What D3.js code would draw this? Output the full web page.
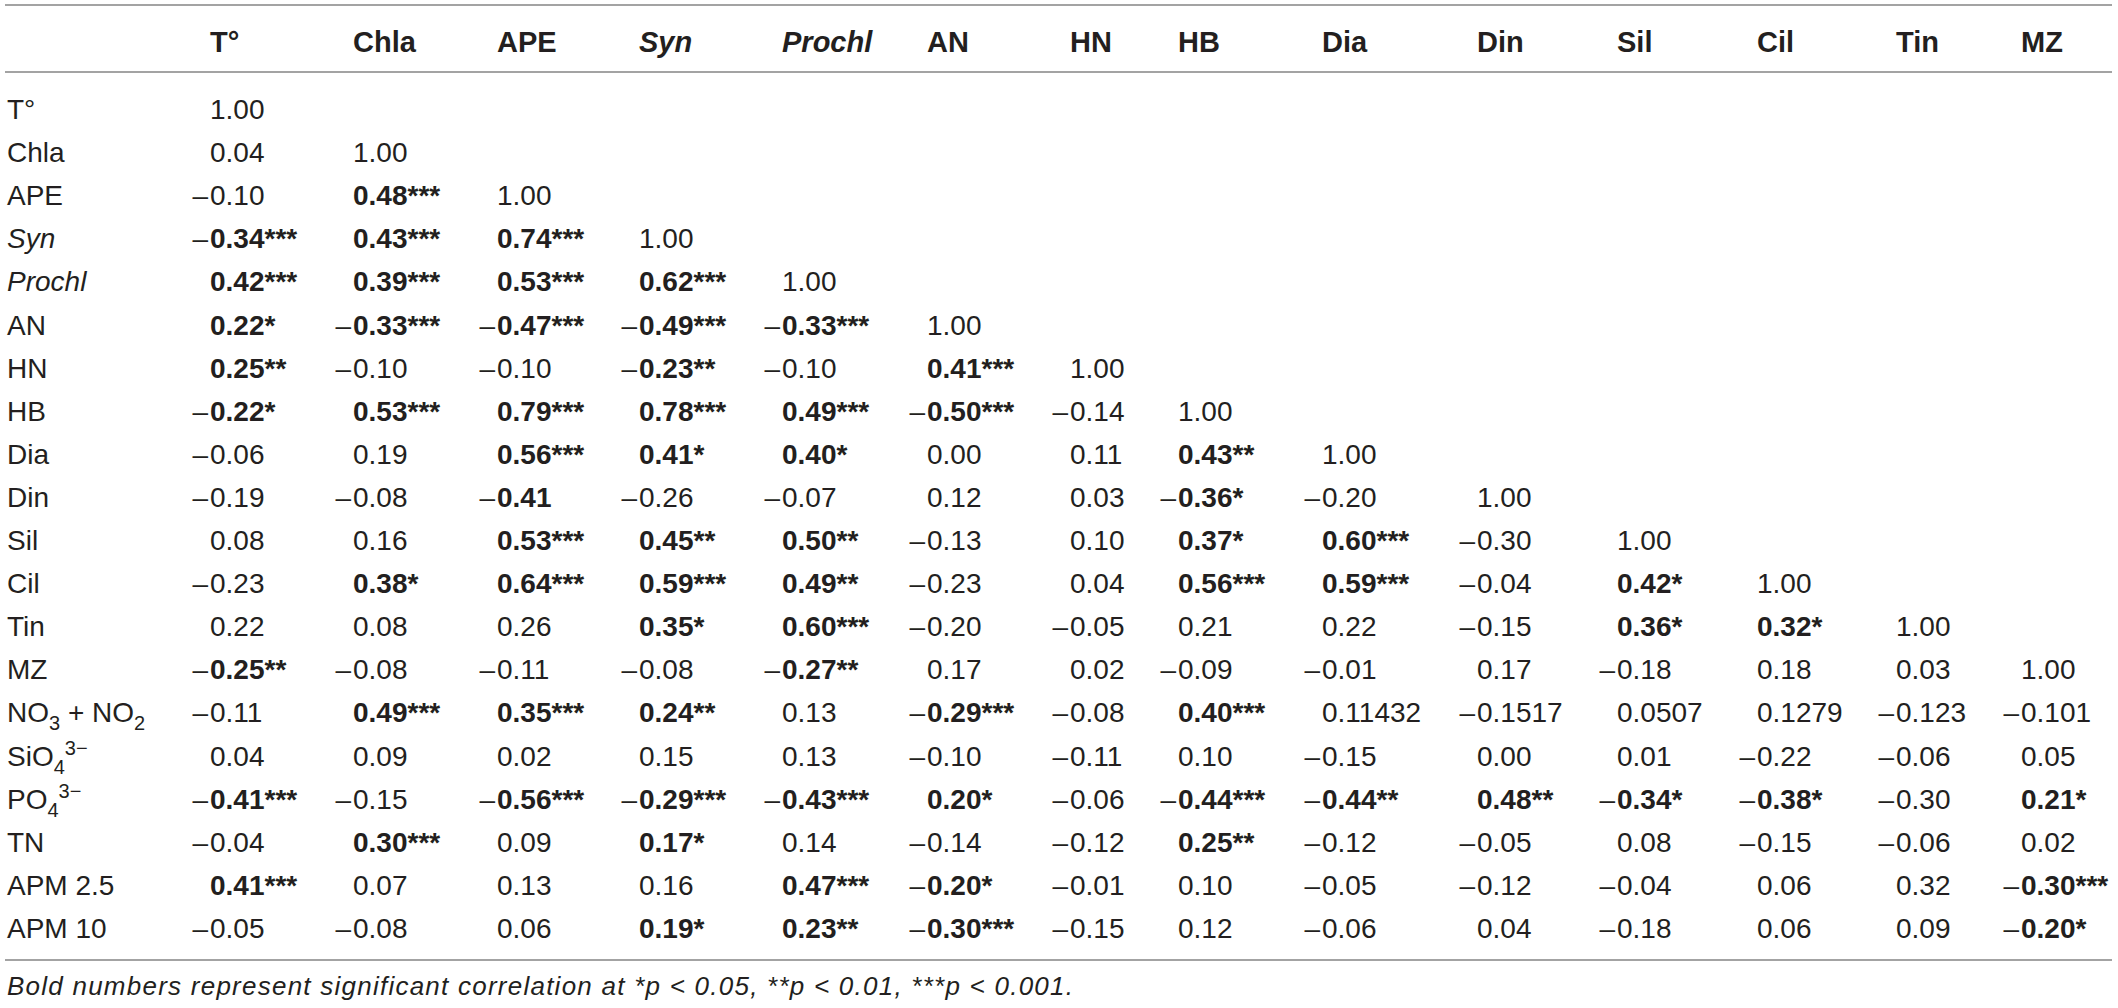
<!DOCTYPE html>
<html>
<head>
<meta charset="utf-8">
<script src="https://cdn.jsdelivr.net/npm/d3@7"></script>
<style>
  body { margin: 0; background: #fff; }
  text { font-family: "Liberation Sans", Arial, Helvetica, sans-serif; fill: #231f20; }
</style>
</head>
<body>
<div id="table"></div>
<script>
//column headers and row labels
let colLabels = ["T°", "Chla", "APE", "Syn", "Prochl", "AN", "HN", "HB", "Dia", "Din", "Sil", "Cil", "Tin", "MZ"];
let italicLabels = ["Syn", "Prochl"];
let rowLabels = ["T°", "Chla", "APE", "Syn", "Prochl", "AN", "HN", "HB", "Dia", "Din", "Sil", "Cil", "Tin", "MZ",
  "NO3 + NO2", "SiO43−", "PO43−", "TN", "APM 2.5", "APM 10"];

//correlation values, stars mark significance (starred cells are bold)
let rowT = ["1.00"];
let rowChla = ["0.04", "1.00"];
let rowAPE = ["-0.10", "0.48***", "1.00"];
let rowSyn = ["-0.34***", "0.43***", "0.74***", "1.00"];
let rowProchl = ["0.42***", "0.39***", "0.53***", "0.62***", "1.00"];
let rowAN = ["0.22*", "-0.33***", "-0.47***", "-0.49***", "-0.33***", "1.00"];
let rowHN = ["0.25**", "-0.10", "-0.10", "-0.23**", "-0.10", "0.41***", "1.00"];
let rowHB = ["-0.22*", "0.53***", "0.79***", "0.78***", "0.49***", "-0.50***", "-0.14", "1.00"];
let rowDia = ["-0.06", "0.19", "0.56***", "0.41*", "0.40*", "0.00", "0.11", "0.43**", "1.00"];
let rowDin = ["-0.19", "-0.08", "-0.41", "-0.26", "-0.07", "0.12", "0.03", "-0.36*", "-0.20", "1.00"];
let rowSil = ["0.08", "0.16", "0.53***", "0.45**", "0.50**", "-0.13", "0.10", "0.37*", "0.60***", "-0.30", "1.00"];
let rowCil = ["-0.23", "0.38*", "0.64***", "0.59***", "0.49**", "-0.23", "0.04", "0.56***", "0.59***", "-0.04", "0.42*", "1.00"];
let rowTin = ["0.22", "0.08", "0.26", "0.35*", "0.60***", "-0.20", "-0.05", "0.21", "0.22", "-0.15", "0.36*", "0.32*", "1.00"];
let rowMZ = ["-0.25**", "-0.08", "-0.11", "-0.08", "-0.27**", "0.17", "0.02", "-0.09", "-0.01", "0.17", "-0.18", "0.18", "0.03", "1.00"];
let rowNO = ["-0.11", "0.49***", "0.35***", "0.24**", "0.13", "-0.29***", "-0.08", "0.40***", "0.11432", "-0.1517", "0.0507", "0.1279", "-0.123", "-0.101"];
let rowSiO4 = ["0.04", "0.09", "0.02", "0.15", "0.13", "-0.10", "-0.11", "0.10", "-0.15", "0.00", "0.01", "-0.22", "-0.06", "0.05"];
let rowPO4 = ["-0.41***", "-0.15", "-0.56***", "-0.29***", "-0.43***", "0.20*", "-0.06", "-0.44***", "-0.44**", "0.48**", "-0.34*", "-0.38*", "-0.30", "0.21*"];
let rowTN = ["-0.04", "0.30***", "0.09", "0.17*", "0.14", "-0.14", "-0.12", "0.25**", "-0.12", "-0.05", "0.08", "-0.15", "-0.06", "0.02"];
let rowAPM25 = ["0.41***", "0.07", "0.13", "0.16", "0.47***", "-0.20*", "-0.01", "0.10", "-0.05", "-0.12", "-0.04", "0.06", "0.32", "-0.30***"];
let rowAPM10 = ["-0.05", "-0.08", "0.06", "0.19*", "0.23**", "-0.30***", "-0.15", "0.12", "-0.06", "0.04", "-0.18", "0.06", "0.09", "-0.20*"];

//bold cells without stars: [row, col]
let boldNoStar = [[9, 2]];

let footnote = "Bold numbers represent significant correlation at *p < 0.05, **p < 0.01, ***p < 0.001.";

let corrRows = [rowT, rowChla, rowAPE, rowSyn, rowProchl, rowAN, rowHN, rowHB, rowDia, rowDin,
  rowSil, rowCil, rowTin, rowMZ, rowNO, rowSiO4, rowPO4, rowTN, rowAPM25, rowAPM10];

/********************************************/
//layout
let svgWidth = 2118;
let svgHeight = 1008;
let colX = [210, 353, 497, 639, 782, 927, 1070, 1178, 1322, 1477, 1617, 1757, 1896, 2021];
let labelX = 7;
let bodySize = 28;

let svg = d3.select("#table")
  .append("svg")
  .attr("width", svgWidth)
  .attr("height", svgHeight);

let xScale = d3.scaleOrdinal().domain(colLabels).range(colX);
let yScale = d3.scalePoint().domain(d3.range(rowLabels.length)).range([119, 938]);

//rules
[5, 72, 960].forEach(function (y) {
  svg.append("line")
    .attr("x1", 5).attr("x2", 2112)
    .attr("y1", y).attr("y2", y)
    .attr("stroke", "#a3a3a3")
    .attr("stroke-width", 2);
});

//header
svg.selectAll(".colHead")
  .data(colLabels)
  .enter()
  .append("text")
  .attr("class", "colHead")
  .attr("x", (d) => xScale(d))
  .attr("y", 52)
  .attr("font-size", 29)
  .attr("font-weight", "bold")
  .attr("font-style", (d) => italicLabels.includes(d) ? "italic" : "normal")
  .text((d) => d);

/********************************************/
//row labels, with sub/superscripts for the nutrients
function labelParts(label) {
  if (label === "NO3 + NO2") return [["NO"], ["3", "sub"], [" + NO"], ["2", "sub"]];
  if (label === "SiO43−") return [["SiO"], ["4", "sub"], ["3−", "sup"]];
  if (label === "PO43−") return [["PO"], ["4", "sub"], ["3−", "sup"]];
  return [[label]];
}

let rowText = svg.selectAll(".rowLabel")
  .data(rowLabels)
  .enter()
  .append("text")
  .attr("class", "rowLabel")
  .attr("x", labelX)
  .attr("y", (d, i) => yScale(i))
  .attr("font-size", bodySize)
  .attr("font-style", (d) => italicLabels.includes(d) ? "italic" : "normal");

rowText.each(function (d) {
  let t = d3.select(this);
  let shift = 0;
  labelParts(d).forEach(function (p) {
    let target = p[1] === "sub" ? 8 : p[1] === "sup" ? -11 : 0;
    let dy = target - shift;
    shift = target;
    t.append("tspan")
      .attr("dy", dy)
      .attr("font-size", p[1] ? 20 : bodySize)
      .text(p[0]);
  });
});

/********************************************/
//cells
let cells = [];
corrRows.forEach(function (row, r) {
  row.forEach(function (v, c) {
    let neg = v.startsWith("-");
    let body = neg ? v.slice(1) : v;
    let bold = v.includes("*") || boldNoStar.some((b) => b[0] === r && b[1] === c);
    cells.push({ row: r, col: colLabels[c], neg: neg, body: body, bold: bold });
  });
});

let cellGroup = svg.append("g").attr("class", "cells");

cellGroup.selectAll(".num")
  .data(cells)
  .enter()
  .append("text")
  .attr("class", "num")
  .attr("x", (d) => xScale(d.col))
  .attr("y", (d) => yScale(d.row))
  .attr("font-size", bodySize)
  .attr("font-weight", (d) => d.bold ? "bold" : "normal")
  .text((d) => d.body);

cellGroup.selectAll(".minus")
  .data(cells.filter((d) => d.neg))
  .enter()
  .append("text")
  .attr("class", "minus")
  .attr("x", (d) => xScale(d.col) - 2)
  .attr("y", (d) => yScale(d.row))
  .attr("font-size", bodySize)
  .attr("text-anchor", "end")
  .text("–");

//footnote
svg.append("text")
  .attr("x", labelX)
  .attr("y", 995)
  .attr("font-size", 26)
  .attr("font-style", "italic")
  .attr("textLength", 1066)
  .attr("lengthAdjust", "spacing")
  .text(footnote);
</script>
</body>
</html>
